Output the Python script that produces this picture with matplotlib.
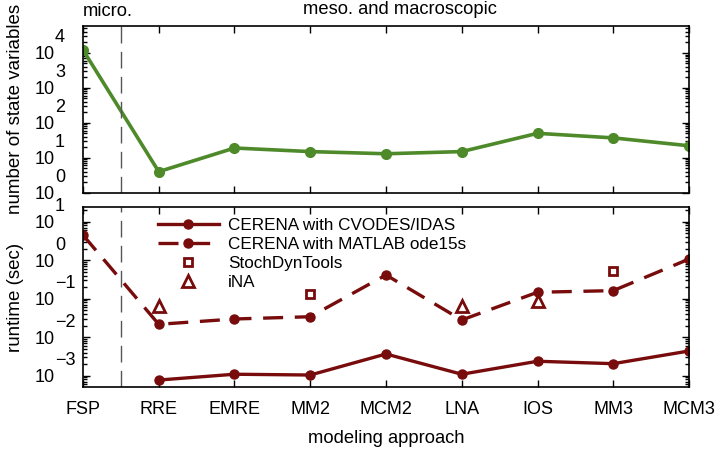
import numpy as np
import matplotlib.pyplot as plt
from matplotlib.ticker import LogLocator, NullFormatter, FixedLocator
import matplotlib.transforms as mtransforms

plt.rcParams['font.family'] = ['Liberation Sans', 'DejaVu Sans']

approaches = ['FSP', 'RRE', 'EMRE', 'MM2', 'MCM2', 'LNA', 'IOS', 'MM3', 'MCM3']
n_states = [12200, 4, 19, 15, 13, 15, 50, 37, 22]
t_cvodes = [np.nan, 7.7e-4, 1.09e-3, 1.04e-3, 3.66e-3, 1.09e-3, 2.37e-3, 2.05e-3, 4.38e-3]
t_ode15s = [4.5, 0.0216, 0.0297, 0.034, 0.413, 0.028, 0.147, 0.162, 1.07]
t_stochdyn = [np.nan, np.nan, np.nan, 0.13, np.nan, np.nan, np.nan, 0.52, np.nan]
t_ina = [np.nan, 0.063, np.nan, np.nan, np.nan, 0.066, 0.086, np.nan, np.nan]

green = '#4e8a2a'
dred = '#780b0b'
fs = 13
x = np.arange(1, len(approaches) + 1)

fig = plt.figure(figsize=(7.19, 4.5), dpi=100)
ax1 = fig.add_axes([0.1154, 0.5718, 0.8429, 0.3704])
ax2 = fig.add_axes([0.1154, 0.1407, 0.8429, 0.3986])

def style(ax, exps):
    ax.set_yscale('log')
    ax.set_xlim(1, 9)
    ax.set_xticks(x)
    ax.yaxis.set_major_locator(FixedLocator([10.0 ** e for e in exps]))
    ax.yaxis.set_minor_locator(LogLocator(base=10, subs=np.arange(2, 10), numticks=20))
    ax.yaxis.set_minor_formatter(NullFormatter())
    ax.set_yticklabels(['10'] * len(exps))
    ax.tick_params(axis='both', which='both', direction='in', top=True, right=True,
                   labelsize=fs, width=1)
    ax.tick_params(axis='y', which='major', length=5, pad=20)
    ax.tick_params(axis='y', which='minor', length=3)
    ax.tick_params(axis='x', which='major', length=5, pad=10)
    for s in ax.spines.values():
        s.set_linewidth(1.2)
    # MATLAB style exponent, set above right of the "10"
    off = mtransforms.ScaledTranslation(-28 / 100, 15 / 100, fig.dpi_scale_trans)
    tr = mtransforms.blended_transform_factory(ax.transAxes, ax.transData) + off
    for e in exps:
        lab = str(e) if e >= 0 else '\u2212' + str(-e)
        ax.text(0, 10.0 ** e, lab, transform=tr, ha='left', va='center', fontsize=fs)
    ax.axvline(1.5, color='#555555', lw=1, dashes=(12, 6))

# top panel
ax1.plot(x, n_states, '-o', color=green, lw=2.6, ms=7, mec=green)
ax1.set_ylim(1, 10 ** 4.77)
style(ax1, [0, 1, 2, 3, 4])
ax1.set_xticklabels([])
ax1.set_ylabel('number of state variables', fontsize=13.5, labelpad=8)
ax1.text(83 / 719, 1 - 12 / 450, 'micro.', transform=fig.transFigure, fontsize=13.2, va='center')
ax1.text(400 / 719, 1 - 10 / 450, 'meso. and macroscopic', transform=fig.transFigure,
         fontsize=13.2, ha='center', va='center')

# bottom panel
ax2.plot(x, t_cvodes, '-o', color=dred, lw=2.4, ms=6.5, label='CERENA with CVODES/IDAS')
ax2.plot(x, t_ode15s, 'o', color=dred, lw=2.4, ms=6.5, ls=(0, (6, 3.5)),
         label='CERENA with MATLAB ode15s')
ax2.plot(x, t_stochdyn, 's', color=dred, mfc='none', mew=2, ms=6, ls='none',
         label='StochDynTools')
ax2.plot(x, t_ina, '^', color=dred, mfc='none', mew=2, ms=8.5, ls='none', label='iNA')
ax2.set_ylim(10 ** -3.286, 10 ** 1.374)
style(ax2, [-3, -2, -1, 0, 1])
ax2.set_xticklabels(approaches)
ax2.set_ylabel('runtime (sec)', fontsize=13.5, labelpad=8)
ax2.set_xlabel('modeling approach', fontsize=13.2, labelpad=9)
ax2.legend(loc='upper left', bbox_to_anchor=(0.105, 1.0), frameon=False, fontsize=12.3,
           handlelength=3.6, handletextpad=0.5, labelspacing=0.22, borderaxespad=0.25)

fig.savefig('out.png', dpi=100)
